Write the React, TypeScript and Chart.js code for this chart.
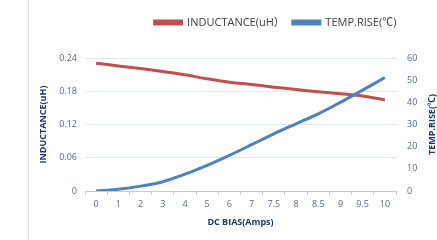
import React, { useEffect, useRef } from "react";
import { Chart, registerables } from "chart.js";

Chart.register(...registerables);

const categories = ["0", "1", "2", "3", "4", "5", "6", "7", "7.5", "8", "8.5", "9", "9.5", "10"];
const inductance = [0.2305, 0.2257, 0.2209, 0.2155, 0.2096, 0.2024, 0.1964, 0.1922, 0.1874, 0.1832, 0.1791, 0.1755, 0.1714, 0.1642];
const tempRise = [0, 0.8, 2.2, 4.2, 7.6, 11.6, 16.1, 20.9, 25.8, 30.3, 34.8, 40, 45.5, 51.2];
const seriesNames = ["INDUCTANCE(uH）", "TEMP.RISE(℃)"];
const leftTitle = "INDUCTANCE(uH)";
const rightTitle = "TEMP.RISE(℃)";
const xTitle = "DC BIAS(Amps)";

const FONT = "'Open Sans', 'Noto Sans CJK SC', sans-serif";
const TICK_COLOR = "#5a6988";
const TITLE_COLOR = "#1f3a68";

export default function App() {
  const ref = useRef<HTMLCanvasElement | null>(null);

  useEffect(() => {
    if (!ref.current) return;
    const tweak = {
      id: "tweak",
      afterLayout(chart: any) {
        const l = chart.legend;
        if (l) {
          l.left += 43;
          l.right += 43;
          l.top -= 20;
          l.bottom -= 20;
        }
      },
      afterDraw(chart: any) {
        const { ctx, chartArea } = chart;
        ctx.save();
        ctx.translate(432, (chartArea.top + chartArea.bottom) / 2);
        ctx.rotate(-Math.PI / 2);
        ctx.textAlign = "center";
        ctx.textBaseline = "middle";
        ctx.font = "bold 9px " + FONT;
        ctx.fillStyle = TITLE_COLOR;
        ctx.fillText(rightTitle, 0, 0);
        ctx.restore();
      },
    };
    const chart = new Chart(ref.current, {
      type: "line",
      data: {
        labels: categories,
        datasets: [
          {
            label: seriesNames[0],
            data: inductance,
            borderColor: "#c0504d",
            backgroundColor: "#c0504d",
            borderWidth: 3,
            pointRadius: 0,
            tension: 0.35,
            yAxisID: "y",
            order: 1,
          },
          {
            label: seriesNames[1],
            data: tempRise,
            borderColor: "#4f81bd",
            backgroundColor: "#4f81bd",
            borderWidth: 3,
            pointRadius: 0,
            tension: 0.35,
            yAxisID: "y1",
            order: 0,
          },
        ],
      },
      options: {
        responsive: false,
        animation: false,
        layout: { padding: { left: 28, top: 29, right: 0, bottom: 12 } },
        plugins: {
          tooltip: { enabled: false },
          legend: {
            position: "top",
            align: "center",
            labels: {
              boxWidth: 27,
              boxHeight: 3,
              padding: 8,
              color: "#404040",
              font: { family: FONT, size: 11 },
              sort: (a: any, b: any) => a.datasetIndex - b.datasetIndex,
            },
          },
        },
        scales: {
          x: {
            offset: true,
            grid: {
              display: true,
              drawOnChartArea: false,
              drawTicks: true,
              tickLength: 4,
              color: "#c8ccd2",
              offset: true,
            },
            border: { display: true, color: "#c8ccd2" },
            ticks: {
              color: TICK_COLOR,
              font: { family: FONT, size: 9 },
              padding: 4,
              maxRotation: 0,
              autoSkip: false,
            },
            title: {
              display: true,
              text: xTitle,
              color: TITLE_COLOR,
              font: { family: FONT, size: 9, weight: "bold" },
              padding: { top: 2, bottom: 0 },
            },
            afterFit(scale: any) {
              scale.height = 37;
            },
          },
          y: {
            position: "left",
            min: 0,
            max: 0.24,
            ticks: {
              stepSize: 0.06,
              color: TICK_COLOR,
              font: { family: FONT, size: 9 },
              padding: 8,
              callback: (v: any) => String(+Number(v).toFixed(2)),
            },
            grid: { color: "#e3e8ef", drawTicks: false },
            border: { display: false },
            title: {
              display: true,
              text: leftTitle,
              color: TITLE_COLOR,
              font: { family: FONT, size: 9, weight: "bold" },
              padding: { top: 10, bottom: 0 },
            },
            afterFit(scale: any) {
              scale.width = 57;
            },
          },
          y1: {
            position: "right",
            min: 0,
            max: 60,
            ticks: {
              stepSize: 10,
              color: TICK_COLOR,
              font: { family: FONT, size: 9 },
              padding: 11,
            },
            grid: { display: false, drawTicks: false },
            border: { display: false },
            afterFit(scale: any) {
              scale.width = 41;
            },
          },
        },
      },
      plugins: [tweak],
    } as any);
    return () => chart.destroy();
  }, []);

  return (
    <div style={{ position: "absolute", left: 0, top: 0, width: 437, height: 240, background: "#fff" }}>
      <div style={{ position: "absolute", left: 28, top: 0, width: 1, height: 240, background: "#dce6f2" }} />
      <canvas ref={ref} width={437} height={240} style={{ position: "absolute", left: 0, top: 0 }} />
    </div>
  );
}
